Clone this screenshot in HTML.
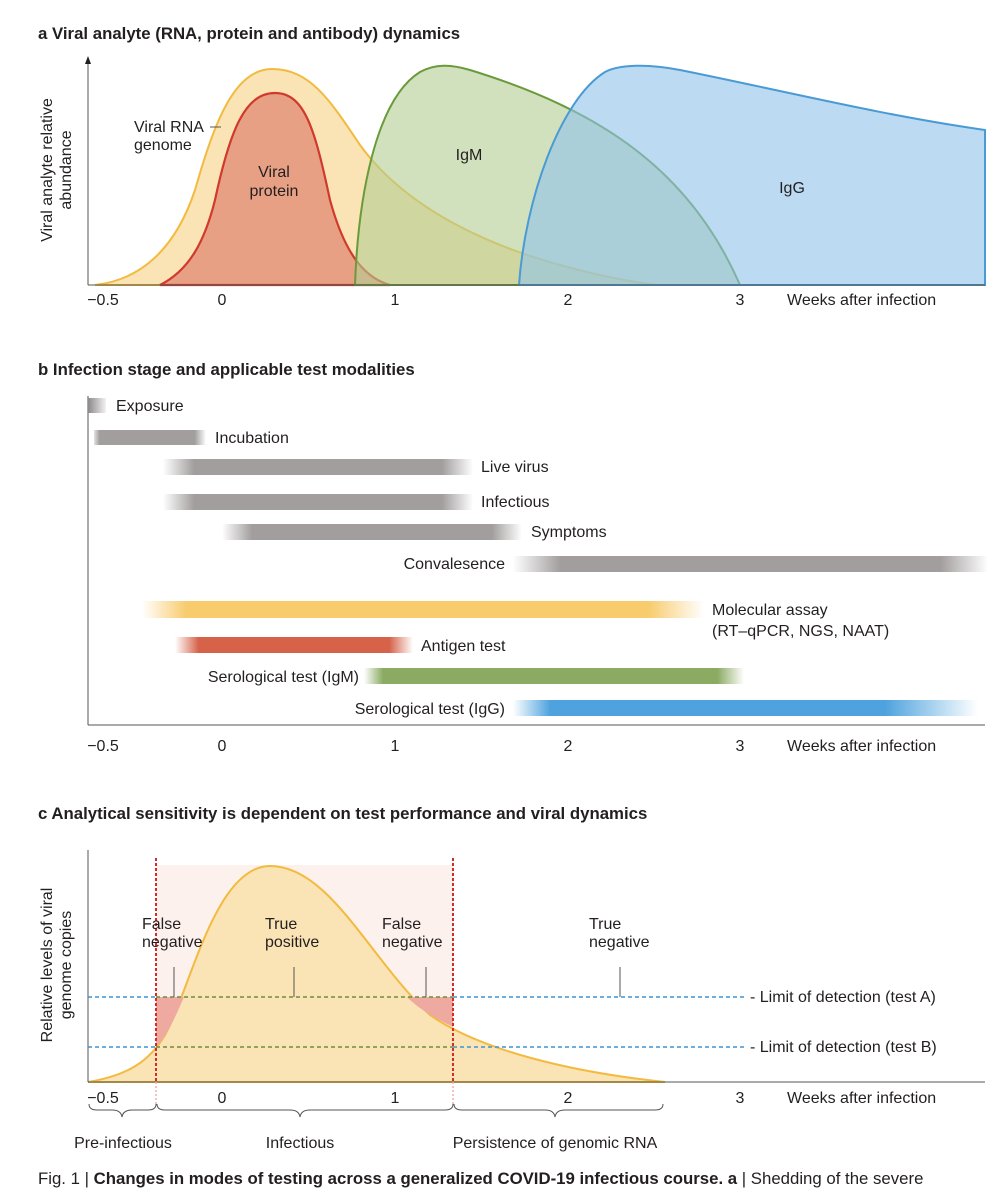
<!DOCTYPE html>
<html><head><meta charset="utf-8"><style>
html,body{margin:0;padding:0;background:#fff;width:1001px;height:1200px;overflow:hidden}
svg text{font-family:"Liberation Sans",sans-serif;fill:#231f20}
</style></head><body>
<svg width="1001" height="1200" viewBox="0 0 1001 1200" xmlns="http://www.w3.org/2000/svg">
<defs>
<linearGradient id="gE" x1="0" x2="1"><stop offset="0" stop-color="#8d8889"/><stop offset="1" stop-color="#8d8889" stop-opacity="0.1"/></linearGradient>
<linearGradient id="gG" x1="0" x2="1"><stop offset="0" stop-color="#a29e9e" stop-opacity="0"/><stop offset="0.1" stop-color="#a29e9e"/><stop offset="0.9" stop-color="#a29e9e"/><stop offset="1" stop-color="#a29e9e" stop-opacity="0"/></linearGradient>
<linearGradient id="gI" x1="0" x2="1"><stop offset="0" stop-color="#a29e9e" stop-opacity="0.3"/><stop offset="0.05" stop-color="#a29e9e"/><stop offset="0.9" stop-color="#a29e9e"/><stop offset="1" stop-color="#a29e9e" stop-opacity="0"/></linearGradient>
<linearGradient id="gY" x1="0" x2="1"><stop offset="0" stop-color="#f8cb6c" stop-opacity="0"/><stop offset="0.08" stop-color="#f8cb6c"/><stop offset="0.9" stop-color="#f8cb6c"/><stop offset="1" stop-color="#f8cb6c" stop-opacity="0"/></linearGradient>
<linearGradient id="gR" x1="0" x2="1"><stop offset="0" stop-color="#d6624a" stop-opacity="0"/><stop offset="0.1" stop-color="#d6624a"/><stop offset="0.9" stop-color="#d6624a"/><stop offset="1" stop-color="#d6624a" stop-opacity="0"/></linearGradient>
<linearGradient id="gM" x1="0" x2="1"><stop offset="0" stop-color="#8bab63" stop-opacity="0"/><stop offset="0.05" stop-color="#8bab63"/><stop offset="0.93" stop-color="#8bab63"/><stop offset="1" stop-color="#8bab63" stop-opacity="0"/></linearGradient>
<linearGradient id="gB" x1="0" x2="1"><stop offset="0" stop-color="#4ea3de" stop-opacity="0"/><stop offset="0.08" stop-color="#4ea3de"/><stop offset="0.8" stop-color="#4ea3de"/><stop offset="1" stop-color="#4ea3de" stop-opacity="0"/></linearGradient>
</defs>

<!-- Titles -->
<text x="38" y="39" font-size="16.8" font-weight="bold">a  Viral analyte (RNA, protein and antibody) dynamics</text>
<text x="38" y="375" font-size="16.8" font-weight="bold">b  Infection stage and applicable test modalities</text>
<text x="38" y="819" font-size="16.8" font-weight="bold">c  Analytical sensitivity is dependent on test performance and viral dynamics</text>

<!-- Panel a -->
<path d="M95,285 C140,280 175,250 195,190 C215,120 235,69 272,69 C310,69 330,100 360,145 C400,200 470,240 560,265 C600,276 630,282 658,285 Z" fill="#fae3b4" stroke="#f2bb3f" stroke-width="2"/>
<path d="M160,285 C190,270 205,240 215,200 C230,130 245,93 275,93 C305,93 315,130 330,200 C345,255 365,278 390,285 Z" fill="#e8a084" stroke="#cf3a2c" stroke-width="2.2"/>
<path d="M355,285 C358,200 375,100 420,72 C435,64 450,64 470,70 C600,110 690,170 740,285 Z" fill="#b3cd92" fill-opacity="0.6" stroke="#6a9a3a" stroke-width="2"/>
<path d="M519,285 C525,200 560,100 605,72 C620,64 650,64 680,70 C780,90 880,115 985,130 L985,285 Z" fill="#8fc3ea" fill-opacity="0.6" stroke="#4a9ad4" stroke-width="2"/>
<line x1="88" y1="60" x2="88" y2="285" stroke="#555" stroke-width="1"/>
<path d="M85,64 L88,56 L91,64 Z" fill="#231f20"/>
<line x1="88" y1="285" x2="985" y2="285" stroke="#555" stroke-width="1"/>
<g font-size="16">
<text x="103" y="305" text-anchor="middle">−0.5</text><text x="222" y="305" text-anchor="middle">0</text><text x="395" y="305" text-anchor="middle">1</text><text x="568" y="305" text-anchor="middle">2</text><text x="740" y="305" text-anchor="middle">3</text>
<text x="787" y="305">Weeks after infection</text>
<text transform="translate(52,170) rotate(-90)" text-anchor="middle">Viral analyte relative</text>
<text transform="translate(71,170) rotate(-90)" text-anchor="middle">abundance</text>
<text x="134" y="132">Viral RNA</text><text x="134" y="150">genome</text>
<line x1="210" y1="127" x2="221" y2="127" stroke="#555"/>
<text x="274" y="177" text-anchor="middle">Viral</text><text x="274" y="196" text-anchor="middle">protein</text>
<text x="469" y="160" text-anchor="middle">IgM</text>
<text x="792" y="193" text-anchor="middle">IgG</text>
</g>

<!-- Panel b -->
<line x1="88" y1="396" x2="88" y2="725" stroke="#555"/>
<line x1="88" y1="725" x2="985" y2="725" stroke="#555"/>
<rect x="88" y="398" width="18" height="15" fill="url(#gE)"/>
<rect x="94" y="430" width="112" height="15" fill="url(#gI)"/>
<rect x="163" y="459" width="310" height="16" fill="url(#gG)"/>
<rect x="163" y="494" width="310" height="16" fill="url(#gG)"/>
<rect x="222" y="524" width="300" height="16" fill="url(#gG)"/>
<rect x="513" y="556" width="475" height="16" fill="url(#gG)"/>
<rect x="142" y="601" width="562" height="17" fill="url(#gY)"/>
<rect x="175" y="637" width="238" height="16" fill="url(#gR)"/>
<rect x="364" y="668" width="380" height="16" fill="url(#gM)"/>
<rect x="513" y="700" width="465" height="16" fill="url(#gB)"/>
<g font-size="16">
<text x="116" y="411">Exposure</text>
<text x="215" y="443">Incubation</text>
<text x="481" y="472">Live virus</text>
<text x="481" y="507">Infectious</text>
<text x="531" y="537">Symptoms</text>
<text x="505" y="569" text-anchor="end">Convalesence</text>
<text x="712" y="615">Molecular assay</text>
<text x="712" y="636">(RT–qPCR, NGS, NAAT)</text>
<text x="421" y="651">Antigen test</text>
<text x="359" y="682" text-anchor="end">Serological test (IgM)</text>
<text x="505" y="714" text-anchor="end">Serological test (IgG)</text>
<text x="103" y="751" text-anchor="middle">−0.5</text><text x="222" y="751" text-anchor="middle">0</text><text x="395" y="751" text-anchor="middle">1</text><text x="568" y="751" text-anchor="middle">2</text><text x="740" y="751" text-anchor="middle">3</text>
<text x="787" y="751">Weeks after infection</text>
</g>

<!-- Panel c -->
<rect x="156" y="865" width="297" height="217" fill="#fcf1ec"/>
<path d="M88,1082 C130,1075 150,1060 165,1035 C190,990 215,866 270,866 C330,866 370,960 430,1015 C480,1050 570,1072 665,1082 Z" fill="#fae3b4" stroke="#f2bb3f" stroke-width="2"/>
<path d="M156,997 L184,997 C176,1015 168,1035 156,1047 Z" fill="#eeaaa0"/>
<path d="M407,997 L453,997 L453,1027 C435,1018 420,1010 407,997 Z" fill="#eeaaa0"/>
<line x1="88" y1="850" x2="88" y2="1082" stroke="#555"/>
<line x1="88" y1="1082" x2="985" y2="1082" stroke="#555"/>
<line x1="88" y1="997" x2="156" y2="997" stroke="#3d94d4" stroke-width="1.6" stroke-dasharray="4,3"/>
<line x1="156" y1="997" x2="453" y2="997" stroke="#6c8e3a" stroke-width="1.6" stroke-dasharray="4,3"/>
<line x1="453" y1="997" x2="745" y2="997" stroke="#3d94d4" stroke-width="1.6" stroke-dasharray="4,3"/>
<line x1="88" y1="1047" x2="156" y2="1047" stroke="#3d94d4" stroke-width="1.6" stroke-dasharray="4,3"/>
<line x1="156" y1="1047" x2="453" y2="1047" stroke="#6c8e3a" stroke-width="1.6" stroke-dasharray="4,3"/>
<line x1="453" y1="1047" x2="745" y2="1047" stroke="#3d94d4" stroke-width="1.6" stroke-dasharray="4,3"/>
<line x1="156" y1="858" x2="156" y2="1082" stroke="#d42a2a" stroke-width="2" stroke-dasharray="3,2"/>
<line x1="453" y1="858" x2="453" y2="1082" stroke="#d42a2a" stroke-width="2" stroke-dasharray="3,2"/>
<line x1="156" y1="1082" x2="156" y2="1105" stroke="#f0b0b0" stroke-width="1.5" stroke-dasharray="2,2"/>
<line x1="453" y1="1082" x2="453" y2="1105" stroke="#f0b0b0" stroke-width="1.5" stroke-dasharray="2,2"/>
<g stroke="#555" fill="none">
<line x1="174" y1="967" x2="174" y2="997"/><line x1="294" y1="967" x2="294" y2="997"/><line x1="426" y1="967" x2="426" y2="997"/><line x1="620" y1="967" x2="620" y2="997"/>
<path d="M89,1104 q0,6 8,6 L112,1110 q9,0 10,7 q1,-7 10,-7 L148,1110 q8,0 8,-6"/>
<path d="M157,1104 q0,6 8,6 L290,1110 q9,0 10,7 q1,-7 10,-7 L445,1110 q8,0 8,-6"/>
<path d="M454,1104 q0,6 8,6 L545,1110 q9,0 10,7 q1,-7 10,-7 L655,1110 q8,0 8,-6"/>
</g>
<g font-size="16">
<text x="142" y="929">False</text><text x="142" y="947">negative</text>
<text x="265" y="929">True</text><text x="265" y="947">positive</text>
<text x="382" y="929">False</text><text x="382" y="947">negative</text>
<text x="589" y="929">True</text><text x="589" y="947">negative</text>
<text x="750" y="1002">- Limit of detection (test A)</text>
<text x="750" y="1052">- Limit of detection (test B)</text>
<text transform="translate(52,965) rotate(-90)" text-anchor="middle">Relative levels of viral</text>
<text transform="translate(71,965) rotate(-90)" text-anchor="middle">genome copies</text>
<text x="103" y="1103" text-anchor="middle">−0.5</text><text x="222" y="1103" text-anchor="middle">0</text><text x="395" y="1103" text-anchor="middle">1</text><text x="568" y="1103" text-anchor="middle">2</text><text x="740" y="1103" text-anchor="middle">3</text>
<text x="787" y="1103">Weeks after infection</text>
<text x="123" y="1148" text-anchor="middle">Pre-infectious</text>
<text x="300" y="1148" text-anchor="middle">Infectious</text>
<text x="555" y="1148" text-anchor="middle">Persistence of genomic RNA</text>
</g>
<text x="38" y="1184" font-size="16.8">Fig. 1 | <tspan font-weight="bold">Changes in modes of testing across a generalized COVID-19 infectious course. a</tspan> | Shedding of the severe</text>
</svg>
</body></html>
